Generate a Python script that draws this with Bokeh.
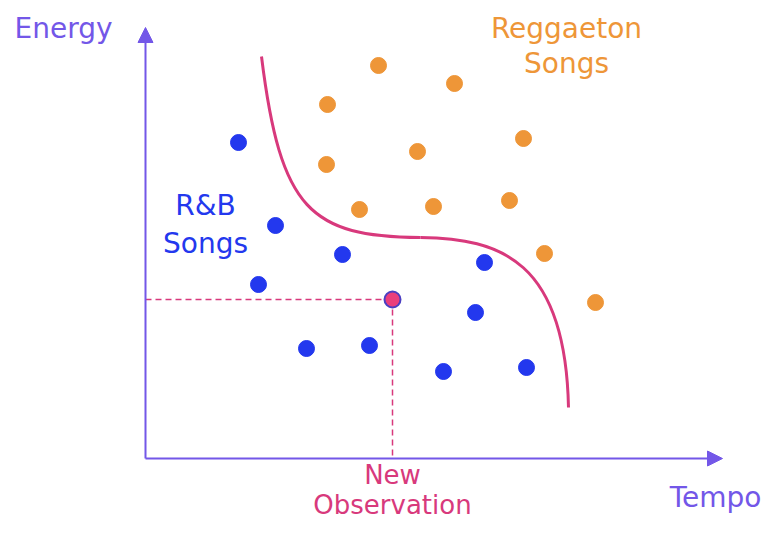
from bokeh.plotting import figure
from bokeh.models import Range1d, Arrow, NormalHead
from bokeh.core.properties import value
from bokeh.embed import file_html
from bokeh.resources import INLINE

# R&B songs (tempo, energy)
rnb_tempo = [9.3, 13.0, 11.3, 19.7, 16.1, 22.4, 29.8, 38.1, 33.0, 33.9]
rnb_energy = [31.6, 23.3, 17.4, 20.4, 11.0, 11.3, 8.7, 9.1, 14.6, 19.6]
# Reggaeton songs
reg_tempo = [23.3, 30.9, 18.2, 37.8, 27.2, 18.1, 21.4, 28.8, 36.4, 39.9, 45.0]
reg_energy = [39.3, 37.5, 35.4, 32.0, 30.7, 29.4, 24.9, 25.2, 25.8, 20.5, 15.6]
# New observation
new_tempo = [24.7]
new_energy = [15.9]
# Decision boundary (two cubic bezier pieces): start, control1, control2, end
bnd_x0 = [11.6, 27.5]
bnd_y0 = [40.2, 22.1]
bnd_cx0 = [13.5, 35.5]
bnd_cy0 = [24.8, 22.0]
bnd_cx1 = [16.5, 42.0]
bnd_cy1 = [22.2, 19.8]
bnd_x1 = [27.5, 42.3]
bnd_y1 = [22.1, 5.1]
# axis extent
x_axis_end = 57.7
y_axis_end = 43.1

PURPLE = "#7357e8"
BLUE = "#2338ee"
ORANGE = "#ee9638"
PINK = "#d8397c"
FONT = "DejaVu Sans"

p = figure(width=764, height=522, output_backend="svg", toolbar_location=None,
           x_range=Range1d(-14.5, 61.9), y_range=Range1d(-6.4, 45.8),
           min_border=0)
p.axis.visible = False
p.grid.visible = False
p.outline_line_color = None

# axes with arrows
p.add_layout(Arrow(end=NormalHead(size=15, fill_color=PURPLE, line_color=PURPLE),
                   x_start=0, y_start=0, x_end=x_axis_end, y_end=0,
                   line_color=PURPLE, line_width=2))
p.add_layout(Arrow(end=NormalHead(size=15, fill_color=PURPLE, line_color=PURPLE),
                   x_start=0, y_start=0, x_end=0, y_end=y_axis_end,
                   line_color=PURPLE, line_width=2))

# dashed guides to new observation
p.line([0, new_tempo[0]], [new_energy[0], new_energy[0]], line_color=PINK,
       line_dash="6 4", line_width=1.5)
p.line([new_tempo[0], new_tempo[0]], [new_energy[0], 0], line_color=PINK,
       line_dash="6 4", line_width=1.5)

# boundary
p.bezier(x0=bnd_x0, y0=bnd_y0, x1=bnd_x1, y1=bnd_y1,
         cx0=bnd_cx0, cy0=bnd_cy0, cx1=bnd_cx1, cy1=bnd_cy1,
         line_color=PINK, line_width=3)

p.scatter(rnb_tempo, rnb_energy, size=16, fill_color=BLUE, line_color=BLUE)
p.scatter(reg_tempo, reg_energy, size=16, fill_color=ORANGE, line_color=ORANGE)
p.scatter(new_tempo, new_energy, size=16, fill_color="#ea3f7c",
          line_color="#4b3fc2", line_width=2)

labels = [
    ("Energy", -8.2, 43.0, PURPLE, "28px", "center"),
    ("Tempo", 61.6, -3.9, PURPLE, "28px", "right"),
    ("New", 24.7, -1.6, PINK, "26px", "center"),
    ("Observation", 24.7, -4.6, PINK, "26px", "center"),
    ("Reggaeton", 42.1, 43.0, ORANGE, "28px", "center"),
    ("Songs", 42.1, 39.5, ORANGE, "28px", "center"),
    ("R&B", 6.0, 25.3, BLUE, "28px", "center"),
    ("Songs", 6.0, 21.5, BLUE, "28px", "center"),
]
for txt, x, y, c, fs, al in labels:
    p.text(x=[x], y=[y], text=[txt], text_color=c, text_font=value(FONT),
           text_font_size=fs, text_align=al, text_baseline="middle")

open("out.html", "w").write(file_html(p, INLINE))
